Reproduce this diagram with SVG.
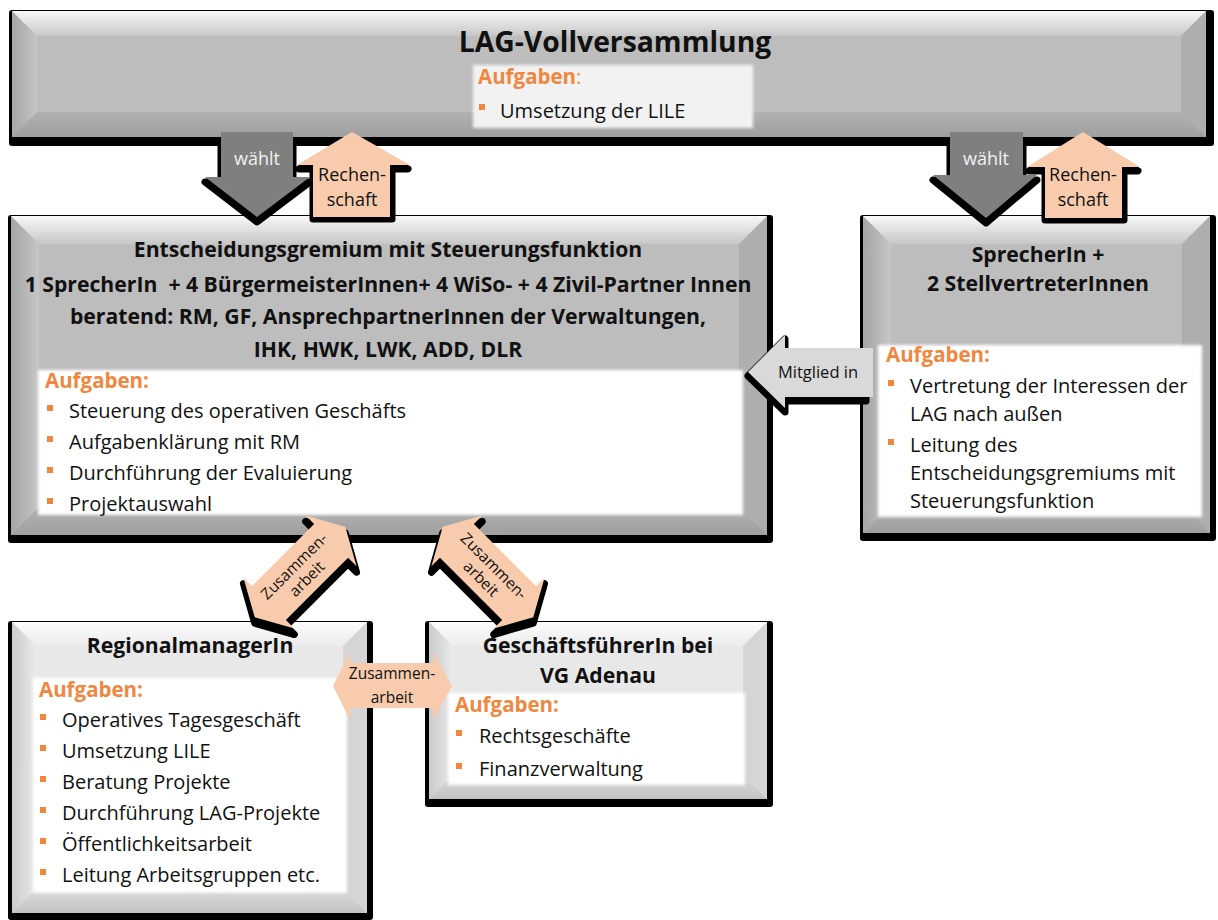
<svg xmlns="http://www.w3.org/2000/svg" width="1218" height="920" viewBox="0 0 1218 920">
<defs>
<style>
text{font-family:"Open Sans","Liberation Sans",sans-serif;}
.t{font-size:21.2px;font-weight:bold;fill:#111;text-anchor:middle}
.h{font-size:20.5px;font-weight:bold;fill:#f0873f}
.b{font-size:20px;fill:#111}
.bul{fill:#f0873f}
.sh{fill:#000}
.gface{fill:#bdbdbd}
.lface{fill:#e8e8e8}
.bt{fill:url(#gTop)}
.bl{fill:url(#gLeft)}
.br{fill:#000;fill-opacity:.08}
.bb{fill:url(#gBot)}
.panel{fill:#fff;filter:url(#soft)}
.al{font-size:18px;fill:#111;text-anchor:middle}
.zl{font-size:15.5px;fill:#111;text-anchor:middle}
.ashadow{fill:#000;stroke:#000;stroke-width:7;stroke-linejoin:round}
.peach{fill:#f8cbad}
</style>
<linearGradient id="gTop" x1="0" y1="0" x2="0" y2="1"><stop offset="0" stop-color="#fff" stop-opacity=".9"/><stop offset="1" stop-color="#fff" stop-opacity=".15"/></linearGradient>
<linearGradient id="gLeft" x1="0" y1="0" x2="1" y2="0"><stop offset="0" stop-color="#000" stop-opacity=".12"/><stop offset="1" stop-color="#fff" stop-opacity=".15"/></linearGradient>
<linearGradient id="gBot" x1="0" y1="0" x2="0" y2="1"><stop offset="0" stop-color="#000" stop-opacity=".06"/><stop offset="1" stop-color="#000" stop-opacity=".16"/></linearGradient>
<filter id="soft" x="-5%" y="-5%" width="110%" height="110%"><feGaussianBlur stdDeviation="1.5"/></filter>
<polygon id="dbl" points="-64,0 -44,-36 -44,-24 44,-24 44,-36 64,0 44,36 44,24 -44,24 -44,36"/>
</defs>

<g id="lag-vollversammlung">
<rect class="sh" x="9" y="10" width="1205" height="136" rx="3"/>
<rect class="gface" x="12" y="11" width="1194" height="126"/>
<polygon class="bt" points="12,11 1206,11 1181,36 37,36"/>
<polygon class="bl" points="12,11 37,36 37,112 12,137"/>
<polygon class="br" points="1206,11 1206,137 1181,112 1181,36"/>
<polygon class="bb" points="12,137 37,112 1181,112 1206,137"/>
<rect class="panel" x="473" y="65" width="280" height="63" style="fill:#f2f2f2"/>
<text x="615" y="52" style="font-size:28.3px;font-weight:bold;fill:#111;text-anchor:middle">LAG-Vollversammlung</text>
<text x="478" y="84" class="h">Aufgaben<tspan style="font-weight:normal">:</tspan></text>
<rect class="bul" x="479" y="104" width="6" height="6"/>
<text x="500" y="118" class="b">Umsetzung der LILE</text>
</g>

<g id="entscheidungsgremium">
<rect class="sh" x="8" y="215" width="765" height="328" rx="3"/>
<rect class="gface" x="11" y="216" width="756" height="319"/>
<polygon class="bt" points="11,216 767,216 739,244 39,244"/>
<polygon class="bl" points="11,216 39,244 39,507 11,535"/>
<polygon class="br" points="767,216 767,535 739,507 739,244"/>
<polygon class="bb" points="11,535 39,507 739,507 767,535"/>
<rect class="panel" x="38" y="370" width="705" height="145"/>
<text x="388" y="257" class="t">Entscheidungsgremium mit Steuerungsfunktion</text>
<text x="388" y="292" class="t" xml:space="preserve">1 SprecherIn  + 4 BürgermeisterInnen+ 4 WiSo- + 4 Zivil-Partner Innen</text>
<text x="388" y="324" class="t">beratend: RM, GF, AnsprechpartnerInnen der Verwaltungen,</text>
<text x="388" y="357" class="t">IHK, HWK, LWK, ADD, DLR</text>
<text x="45" y="388" class="h">Aufgaben:</text>
<rect class="bul" x="47" y="405" width="6" height="6"/>
<text x="69" y="418" class="b">Steuerung des operativen Geschäfts</text>
<rect class="bul" x="47" y="436" width="6" height="6"/>
<text x="69" y="449" class="b">Aufgabenklärung mit RM</text>
<rect class="bul" x="47" y="467" width="6" height="6"/>
<text x="69" y="480" class="b">Durchführung der Evaluierung</text>
<rect class="bul" x="47" y="498" width="6" height="6"/>
<text x="69" y="511" class="b">Projektauswahl</text>
</g>

<g id="sprecherin">
<rect class="sh" x="860" y="215" width="356" height="326" rx="3"/>
<rect class="gface" x="863" y="216" width="347" height="317"/>
<polygon class="bt" points="863,216 1210,216 1182,244 891,244"/>
<polygon class="bl" points="863,216 891,244 891,505 863,533"/>
<polygon class="br" points="1210,216 1210,533 1182,505 1182,244"/>
<polygon class="bb" points="863,533 891,505 1182,505 1210,533"/>
<rect class="panel" x="878" y="345" width="324" height="172"/>
<text x="1038" y="262" class="t">SprecherIn +</text>
<text x="1038" y="291" class="t">2 StellvertreterInnen</text>
<text x="886" y="362" class="h">Aufgaben:</text>
<rect class="bul" x="888" y="380" width="6" height="6"/>
<text x="910" y="393" class="b">Vertretung der Interessen der</text>
<text x="910" y="421" class="b">LAG nach außen</text>
<rect class="bul" x="888" y="439" width="6" height="6"/>
<text x="910" y="452" class="b">Leitung des</text>
<text x="910" y="480" class="b">Entscheidungsgremiums mit</text>
<text x="910" y="508" class="b">Steuerungsfunktion</text>
</g>

<g id="regionalmanagerin">
<rect class="sh" x="8" y="621" width="365" height="299" rx="3"/>
<rect class="lface" x="12" y="622" width="355" height="291"/>
<polygon class="bt" points="12,622 367,622 343,646 36,646"/>
<polygon class="bl" points="12,622 36,646 36,889 12,913"/>
<polygon class="br" points="367,622 367,913 343,889 343,646"/>
<polygon class="bb" points="12,913 36,889 343,889 367,913"/>
<rect class="panel" x="33" y="678" width="314" height="215"/>
<text x="190" y="653" class="t">RegionalmanagerIn</text>
<text x="39" y="697" class="h">Aufgaben:</text>
<rect class="bul" x="40" y="714" width="6" height="6"/>
<text x="62" y="727" class="b">Operatives Tagesgeschäft</text>
<rect class="bul" x="40" y="745" width="6" height="6"/>
<text x="62" y="758" class="b">Umsetzung LILE</text>
<rect class="bul" x="40" y="776" width="6" height="6"/>
<text x="62" y="789" class="b">Beratung Projekte</text>
<rect class="bul" x="40" y="807" width="6" height="6"/>
<text x="62" y="820" class="b">Durchführung LAG-Projekte</text>
<rect class="bul" x="40" y="838" width="6" height="6"/>
<text x="62" y="851" class="b">Öffentlichkeitsarbeit</text>
<rect class="bul" x="40" y="869" width="6" height="6"/>
<text x="62" y="882" class="b">Leitung Arbeitsgruppen etc.</text>
</g>

<g id="geschaeftsfuehrerin">
<rect class="sh" x="425" y="621" width="348" height="186" rx="3"/>
<rect class="lface" x="429" y="622" width="338" height="177"/>
<polygon class="bt" points="429,622 767,622 743,646 453,646"/>
<polygon class="bl" points="429,622 453,646 453,775 429,799"/>
<polygon class="br" points="767,622 767,799 743,775 743,646"/>
<polygon class="bb" points="429,799 453,775 743,775 767,799"/>
<rect class="panel" x="448" y="693" width="297" height="92"/>
<text x="598" y="653" class="t">GeschäftsführerIn bei</text>
<text x="598" y="683" class="t">VG Adenau</text>
<text x="455" y="712" class="h">Aufgaben:</text>
<rect class="bul" x="456" y="730" width="6" height="6"/>
<text x="479" y="743" class="b">Rechtsgeschäfte</text>
<rect class="bul" x="456" y="763" width="6" height="6"/>
<text x="479" y="776" class="b">Finanzverwaltung</text>
</g>

<g id="connectors">
<polygon class="ashadow" points="221,144 293,144 293,182 310,182 257,222 205,182 221,182"/>
<polygon points="221,132 293,132 293,177 310,177 257,217 205,177 221,177" fill="#7f7f7f"/>
<text x="257" y="165" class="al" style="fill:#f2f2f2">wählt</text>
<polygon class="ashadow" points="299,169 352,144 408,169 392,169 392,219 313,219 313,169"/>
<polygon class="peach" points="297,165 352,132 410,165 390,165 390,217 313,217 313,165"/>
<text x="352" y="181" class="al">Rechen-</text>
<text x="352" y="206" class="al">schaft</text>
<polygon class="ashadow" points="950,144 1023,144 1023,180 1037,180 986,223 933,180 950,180"/>
<polygon points="950,132 1023,132 1023,175 1037,175 986,218 933,175 950,175" fill="#7f7f7f"/>
<text x="986" y="165" class="al" style="fill:#f2f2f2">wählt</text>
<polygon class="ashadow" points="1029,171 1083,144 1138,171 1124,171 1124,220 1045,220 1045,171"/>
<polygon class="peach" points="1027,167 1083,132 1140,167 1122,167 1122,218 1045,218 1045,167"/>
<text x="1083" y="181" class="al">Rechen-</text>
<text x="1083" y="206" class="al">schaft</text>
<polygon class="ashadow" points="748,376 785,339 785,352 866,352 866,401 785,401 785,412"/>
<polygon points="748,372 785,335 785,348 873,348 873,397 785,397 785,408" fill="#d9d9d9"/>
<text x="818" y="378" style="font-size:16.5px;fill:#111;text-anchor:middle">Mitglied in</text>
<g transform="translate(300,578)">
<use href="#dbl" class="ashadow" transform="rotate(-45)"/>
</g>
<g transform="translate(300,572) rotate(-45)">
<use href="#dbl" class="peach"/>
<text x="0" y="-3" class="zl">Zusammen-</text>
<text x="0" y="15" class="zl">arbeit</text>
</g>
<g transform="translate(488,578)">
<use href="#dbl" class="ashadow" transform="rotate(45)"/>
</g>
<g transform="translate(488,572) rotate(45)">
<use href="#dbl" class="peach"/>
<text x="0" y="-3" class="zl">Zusammen-</text>
<text x="0" y="15" class="zl">arbeit</text>
</g>
<polygon class="peach" points="333,686 350,652 350,663 433,663 433,652 452,686 433,720 433,708 350,708 350,720"/>
<text x="392" y="679" class="zl">Zusammen-</text>
<text x="392" y="703" class="zl">arbeit</text>
</g>
</svg>
